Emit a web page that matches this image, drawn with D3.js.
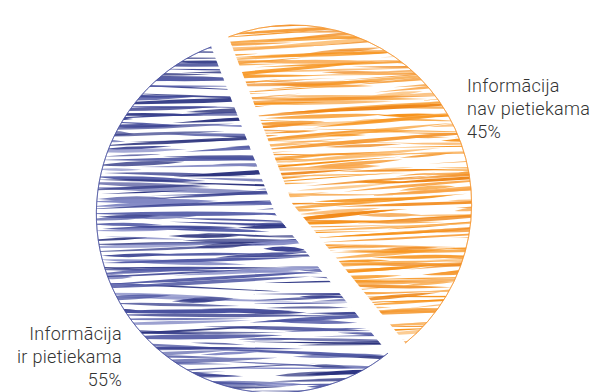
<!DOCTYPE html>
<html>
<head>
<meta charset="utf-8">
<script src="https://cdn.jsdelivr.net/npm/d3@7"></script>
<style>
  html, body { margin: 0; padding: 0; background: #ffffff; }
  svg { display: block; }
  text { font-family: Roboto, "Open Sans", sans-serif; }
</style>
</head>
<body>
<svg id="chart" width="605" height="392"></svg>
<script>
// ---- data ----
const categories = ["Informācija nav pietiekama", "Informācija ir pietiekama"];
const values = [45, 55];
const percentLabels = ["45%", "55%"];
const labelLines = [["Informācija", "nav pietiekama"], ["Informācija", "ir pietiekama"]];
const colors = ["#f5922a", "#454c9c"];
const strokePalettes = [
  ["#f7941d", "#f28a1a", "#f9a64a", "#fbb868", "#ee8516", "#f59b35", "#f7941d"],
  ["#3c4493", "#2f3784", "#565ea8", "#8288c4", "#3a418f", "#4a52a0", "#2c337d"]
];

// ---- layout ----
const W = 605, H = 392;
const cx = 284, cy = 209, R = 179, explode = 10;
const startDeg = -21;

const svg = d3.select("#chart");
const pie = d3.pie().sort(null).value(d => d)
  .startAngle(startDeg * Math.PI / 180)
  .endAngle(startDeg * Math.PI / 180 + 2 * Math.PI);
const arcs = pie(values);
const arc = d3.arc().innerRadius(0).outerRadius(R);
const rim = d3.arc().innerRadius(R).outerRadius(R);

const rng = d3.randomLcg(0.4217);
const rand = (a, b) => a + (b - a) * rng();

const defs = svg.append("defs");

arcs.forEach((a, i) => {
  const mid = (a.startAngle + a.endAngle) / 2;
  const ox = cx + explode * Math.sin(mid);
  const oy = cy - explode * Math.cos(mid);
  const g = svg.append("g").attr("transform", `translate(${ox},${oy})`);
  const clipId = "clip" + i;
  defs.append("clipPath").attr("id", clipId)
    .append("path").attr("d", arc(a));

  const tex = g.append("g").attr("clip-path", `url(#${clipId})`);
  const pal = strokePalettes[i];
  // scribble texture: tapered pen strokes row by row;
  // strokes thin out towards the lower-right rim, as in the hand-drawn original
  for (let y = -R - 4; y <= R + 4; y += (i === 0 ? 2.8 : 3.8)) {
    let x = -R - 20 + rand(0, 30);
    while (x < R + 20) {
      const len = rand(35, 220);
      const w = i === 0 ? rand(1.0, 4.2) : rand(1.4, 5.2);
      const slope = i === 0 ? rand(-0.1, 0.02) : rand(-0.06, 0.05);
      const x0 = x, x1 = x + len;
      const y0 = y + rand(-1.5, 1.5), y1 = y0 + slope * len;
      const xm = (x0 + x1) / 2, ym = (y0 + y1) / 2 + rand(-0.8, 0.8);
      const sparse = (x0 + y0 > 230) ? 0.55 : 0;
      if (rng() >= sparse) {
        const d = `M${x0},${y0} Q${xm},${ym - w} ${x1},${y1} Q${xm},${ym + w} ${x0},${y0}Z`;
        tex.append("path")
          .attr("d", d)
          .attr("fill", pal[Math.floor(rng() * pal.length)])
          .attr("opacity", rand(0.65, 1));
      }
      x = x1 + (rng() < 0.3 ? rand(10, 60) : rand(-50, 5));
    }
  }
  // thin outline along the rim of the slice
  g.append("path")
    .attr("d", rim(a))
    .attr("fill", "none")
    .attr("stroke", colors[i])
    .attr("stroke-width", 1)
    .attr("stroke-opacity", 0.6);
});

// ---- labels ----
const fs = 18;
const lineH = 23;
const labelPos = [
  { x: 467, y: 92, anchor: "start" },
  { x: 122, y: 339.5, anchor: "end" }
];
categories.forEach((c, i) => {
  const t = svg.append("text")
    .attr("x", labelPos[i].x)
    .attr("y", labelPos[i].y)
    .attr("text-anchor", labelPos[i].anchor)
    .attr("font-size", fs)
    .attr("font-weight", 300)
    .attr("letter-spacing", 0.3)
    .attr("fill", "#333333");
  const lines = labelLines[i].concat([percentLabels[i]]);
  lines.forEach((ln, k) => {
    t.append("tspan")
      .attr("x", labelPos[i].x)
      .attr("dy", k === 0 ? 0 : lineH)
      .text(ln);
  });
});
</script>
</body>
</html>
